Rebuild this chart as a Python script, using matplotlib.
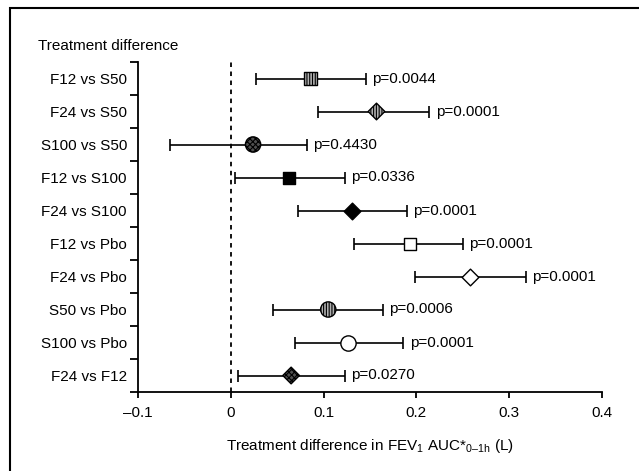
import matplotlib
matplotlib.use("Agg")
import matplotlib.pyplot as plt
from matplotlib.patches import Rectangle

plt.rcParams['font.family'] = ['Liberation Sans', 'DejaVu Sans']
plt.rcParams['mathtext.fontset'] = 'custom'
plt.rcParams['mathtext.rm'] = 'Liberation Sans'
plt.rcParams['mathtext.it'] = 'Liberation Sans'
plt.rcParams['hatch.linewidth'] = 0.8

# comparisons, top to bottom
labels = ["F12 vs S50", "F24 vs S50", "S100 vs S50", "F12 vs S100", "F24 vs S100",
          "F12 vs Pbo", "F24 vs Pbo", "S50 vs Pbo", "S100 vs Pbo", "F24 vs F12"]
diff = [0.086, 0.157, 0.024, 0.063, 0.131, 0.193, 0.258, 0.105, 0.126, 0.065]
ci_low = [0.027, 0.094, -0.066, 0.005, 0.072, 0.133, 0.199, 0.045, 0.069, 0.008]
ci_high = [0.146, 0.214, 0.082, 0.123, 0.190, 0.250, 0.318, 0.164, 0.186, 0.123]
pvals = ["p=0.0044", "p=0.0001", "p=0.4430", "p=0.0336", "p=0.0001",
         "p=0.0001", "p=0.0001", "p=0.0006", "p=0.0001", "p=0.0270"]

# marker styles: (shape, size in pt, face, hatch)
styles = [("s", 9, "#b0b0b0", "||||||"),
          ("D", 8.5, "#b0b0b0", "||||||"),
          ("o", 11, "#505050", "xxxxxx"),
          ("s", 9, "black", None),
          ("D", 8.5, "black", None),
          ("s", 9, "white", None),
          ("D", 8.5, "white", None),
          ("o", 11, "#b0b0b0", "||||||"),
          ("o", 11, "white", None),
          ("D", 8.5, "#505050", "xxxxxx")]

fig = plt.figure(figsize=(6.39, 4.71), dpi=100)
ax = fig.add_axes([138/639, 79/471, 464/639, 330/471])

ypos = list(range(len(labels)))
for y, m, lo, hi, p, st in zip(ypos, diff, ci_low, ci_high, pvals, styles):
    ax.errorbar(m, y, xerr=[[m - lo], [hi - m]], fmt="none", ecolor="black",
                elinewidth=1.2, capsize=4, capthick=1.2, zorder=2)
    shape, size, face, hatch = st
    ax.scatter([m], [y], marker=shape, s=size**2, facecolor=face, edgecolor="black",
               linewidth=1.0, hatch=hatch, zorder=3)
    ax.annotate(p, (hi, y), xytext=(4.5, 0), textcoords="offset points",
                va="center", ha="left", fontsize=11)

ax.axvline(0, color="black", linestyle=(0, (2.5, 2.5)), linewidth=1.3, zorder=1)

ax.set_xlim(-0.1, 0.4)
ax.set_ylim(len(labels) - 0.5, -0.5)
ax.set_xticks([-0.1, 0, 0.1, 0.2, 0.3, 0.4])
ax.set_xticklabels(["\u20130.1", "0", "0.1", "0.2", "0.3", "0.4"], fontsize=11)
ax.tick_params(axis="x", length=4, width=1.3, pad=6)

ax.set_yticks([i - 0.5 for i in range(len(labels) + 1)])
ax.set_yticklabels([])
ax.set_yticks(ypos, minor=True)
ax.set_yticklabels(labels, minor=True, fontsize=11)
ax.tick_params(axis="y", which="major", length=6, width=1.3)
ax.tick_params(axis="y", which="minor", length=0, pad=8)

for side in ["top", "right"]:
    ax.spines[side].set_visible(False)
for side in ["left", "bottom"]:
    ax.spines[side].set_linewidth(1.3)

xlabel = "Treatment difference in FEV$_1$ AUC*$_{\\mathrm{0\u20131h}}$ (L)"
ax.set_xlabel(xlabel, fontsize=11, labelpad=12)
fig.text(38/639, 1 - 46/471, "Treatment difference", fontsize=11, ha="left", va="center")

fig.add_artist(Rectangle((10/639, -0.1), 1.2, 1.1 - 8/471, transform=fig.transFigure,
                         fill=False, edgecolor="black", linewidth=1.5))

fig.savefig("out.png", dpi=100)
